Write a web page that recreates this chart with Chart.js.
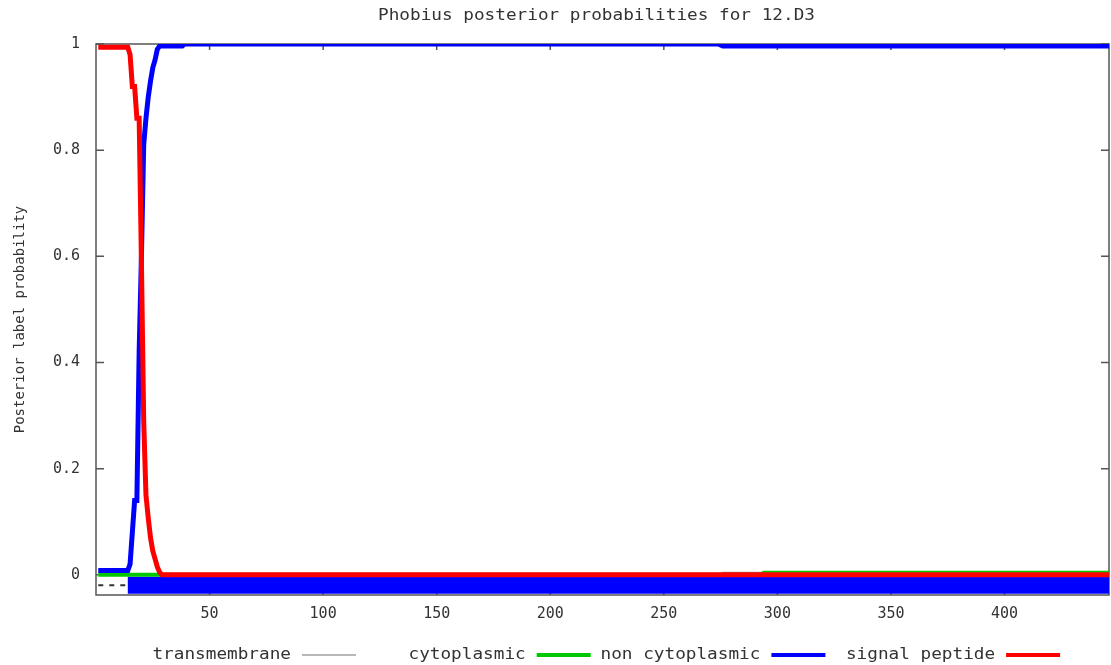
<!DOCTYPE html>
<html>
<head>
<meta charset="utf-8">
<script src="https://cdn.jsdelivr.net/npm/chart.js@4.4.1/dist/chart.umd.min.js"></script>
<style>
	html, body { margin: 0; padding: 0; background: #fff; }
	#wrap { width: 1111px; height: 665px; position: relative; }
</style>
</head>
<body>
<div id="wrap"><canvas id="chart-phobius"></canvas></div>
<script>
const TITLE = "Phobius posterior probabilities for 12.D3";
const Y_TITLE = "Posterior label probability";

// Axis ticks
const X_TICKS = [50, 100, 150, 200, 250, 300, 350, 400];
const Y_TICKS = [0, 0.2, 0.4, 0.6, 0.8, 1];
const Y_TICK_LABELS = ["0", "0.2", "0.4", "0.6", "0.8", "1"];
const X_MAX = 446;
const Y_MIN = -0.038;

// Posterior probabilities per residue (breakpoints)
const TM_RES = [1, 275, 276, 293, 294, 446];
const TM_VAL = [0, 0, 0.004, 0.004, 0, 0];

const CYTO_RES = [1, 293, 294, 446];
const CYTO_VAL = [0, 0, 0.004, 0.004];

const NONCYTO_RES = [1, 14, 15, 16, 17, 18, 19, 20, 21, 22, 23, 24, 25, 26, 27, 28, 38, 39, 274, 276, 446];
const NONCYTO_VAL = [0.008, 0.008, 0.02, 0.08, 0.14, 0.14, 0.42, 0.6, 0.81, 0.86, 0.9, 0.93, 0.955, 0.97, 0.99, 0.996, 0.996, 1, 1, 0.996, 0.996];

const SIGNAL_RES = [1, 14, 15, 16, 17, 18, 19, 20, 21, 22, 23, 24, 25, 26, 27, 28, 29, 446];
const SIGNAL_VAL = [0.994, 0.994, 0.98, 0.92, 0.92, 0.86, 0.86, 0.59, 0.29, 0.15, 0.107, 0.07, 0.045, 0.03, 0.015, 0.005, 0, 0];

// Predicted topology bar under the zero line
const PRED_RES = [14, 446];
const PRED_VAL = [-0.0198, -0.0198];
const SP_RES = [1, 14];
const SP_VAL = [-0.0198, -0.0198];

const pts = (xs, ys) => xs.map((x, i) => ({ x: x, y: ys[i] }));

const FONT = "'DejaVu Sans Mono', 'Liberation Mono', monospace";
const TEXT = "#333";
const STRETCH = 1.18;

// Frame, inward ticks, title and gnuplot style key
const decor = {
	id: "decor",
	beforeDatasetsDraw(chart) {
		const { ctx, chartArea: a, scales: { x, y } } = chart;
		ctx.save();
		ctx.strokeStyle = "#555";
		ctx.lineWidth = 1.5;
		ctx.strokeRect(a.left, a.top, a.right - a.left, a.bottom - a.top);
		ctx.beginPath();
		x.ticks.forEach((t) => {
			const px = x.getPixelForValue(t.value);
			ctx.moveTo(px, a.bottom);
			ctx.lineTo(px, a.bottom - 6);
			ctx.moveTo(px, a.top);
			ctx.lineTo(px, a.top + 6);
		});
		y.ticks.forEach((t) => {
			const py = y.getPixelForValue(t.value);
			ctx.moveTo(a.left, py);
			ctx.lineTo(a.left + 8, py);
			ctx.moveTo(a.right, py);
			ctx.lineTo(a.right - 8, py);
		});
		ctx.stroke();
		ctx.restore();
	},
	afterDraw(chart) {
		const { ctx, chartArea: a } = chart;
		ctx.save();
		ctx.fillStyle = TEXT;
		ctx.font = "15px " + FONT;
		ctx.textBaseline = "middle";

		ctx.save();
		ctx.translate((a.left + a.right) / 2 - 6, 16);
		ctx.scale(STRETCH, 1);
		ctx.textAlign = "center";
		ctx.fillText(TITLE, 0, 0);
		ctx.restore();

		const items = chart.data.datasets.filter((d) => d.keyLabel);
		items.forEach((d, i) => {
			const end = 356 + 234.7 * i;
			const start = end - 54;
			const cy = 655;
			ctx.save();
			ctx.translate(start - 11, cy);
			ctx.scale(STRETCH, 1);
			ctx.textAlign = "right";
			ctx.fillText(d.keyLabel, 0, 0);
			ctx.restore();
			ctx.beginPath();
			ctx.strokeStyle = d.borderColor;
			ctx.lineWidth = d.keyWidth;
			ctx.moveTo(start, cy);
			ctx.lineTo(end, cy);
			ctx.stroke();
		});
		ctx.restore();
	},
};

const DATA = {
	datasets: [
		{
			keyLabel: "transmembrane",
			data: pts(TM_RES, TM_VAL),
			borderColor: "#a0a0a0",
			borderWidth: 2,
			keyWidth: 1.5,
			order: 3,
		},
		{
			keyLabel: "cytoplasmic",
			data: pts(CYTO_RES, CYTO_VAL),
			borderColor: "#00c800",
			borderWidth: 4,
			keyWidth: 4,
			order: 2,
		},
		{
			keyLabel: "non cytoplasmic",
			data: pts(NONCYTO_RES, NONCYTO_VAL),
			borderColor: "#0000ff",
			borderWidth: 5,
			keyWidth: 4,
			order: 1,
		},
		{
			keyLabel: "signal peptide",
			data: pts(SIGNAL_RES, SIGNAL_VAL),
			borderColor: "#ff0000",
			borderWidth: 5,
			keyWidth: 4,
			order: 0,
		},
		{
			data: pts(PRED_RES, PRED_VAL),
			borderColor: "#0000ff",
			borderWidth: 17,
			order: 5,
		},
		{
			data: pts(SP_RES, SP_VAL),
			borderColor: "#333",
			borderWidth: 2,
			borderDash: [5, 6],
			order: 4,
		},
	],
};

const CONFIG = {
	type: "line",
	data: DATA,
	plugins: [decor],
	options: {
		responsive: true,
		maintainAspectRatio: false,
		animation: false,
		layout: {
			padding: { top: 44, right: 2, left: 0, bottom: 0 },
		},
		elements: {
			point: { radius: 0 },
			line: { tension: 0, fill: false, borderCapStyle: "butt" },
		},
		plugins: {
			legend: { display: false },
			title: { display: false },
			tooltip: { enabled: false },
		},
		scales: {
			x: {
				type: "linear",
				min: 0,
				max: X_MAX,
				border: { display: false },
				grid: { display: false, drawTicks: false },
				afterBuildTicks: (s) => {
					s.ticks = X_TICKS.map((v) => ({ value: v }));
				},
				afterFit: (s) => {
					s.height = 70;
				},
				ticks: {
					padding: 10,
					color: TEXT,
					autoSkip: false,
					maxRotation: 0,
					font: { family: FONT, size: 15 },
					callback: (v) => String(v),
				},
			},
			y: {
				min: Y_MIN,
				max: 1,
				border: { display: false },
				grid: { display: false, drawTicks: false },
				afterBuildTicks: (s) => {
					s.ticks = Y_TICKS.map((v) => ({ value: v }));
				},
				afterFit: (s) => {
					s.width = 96;
				},
				ticks: {
					padding: 16,
					color: TEXT,
					font: { family: FONT, size: 15 },
					callback: (v) => Y_TICK_LABELS[Y_TICKS.indexOf(v)],
				},
				title: {
					display: true,
					text: Y_TITLE,
					color: TEXT,
					padding: { top: 12, bottom: 0 },
					font: { family: FONT, size: 14 },
				},
			},
		},
	},
};

const WRAPPER = document.getElementById("chart-phobius");
if (WRAPPER) {
	new Chart(WRAPPER, CONFIG);
}
</script>
</body>
</html>
